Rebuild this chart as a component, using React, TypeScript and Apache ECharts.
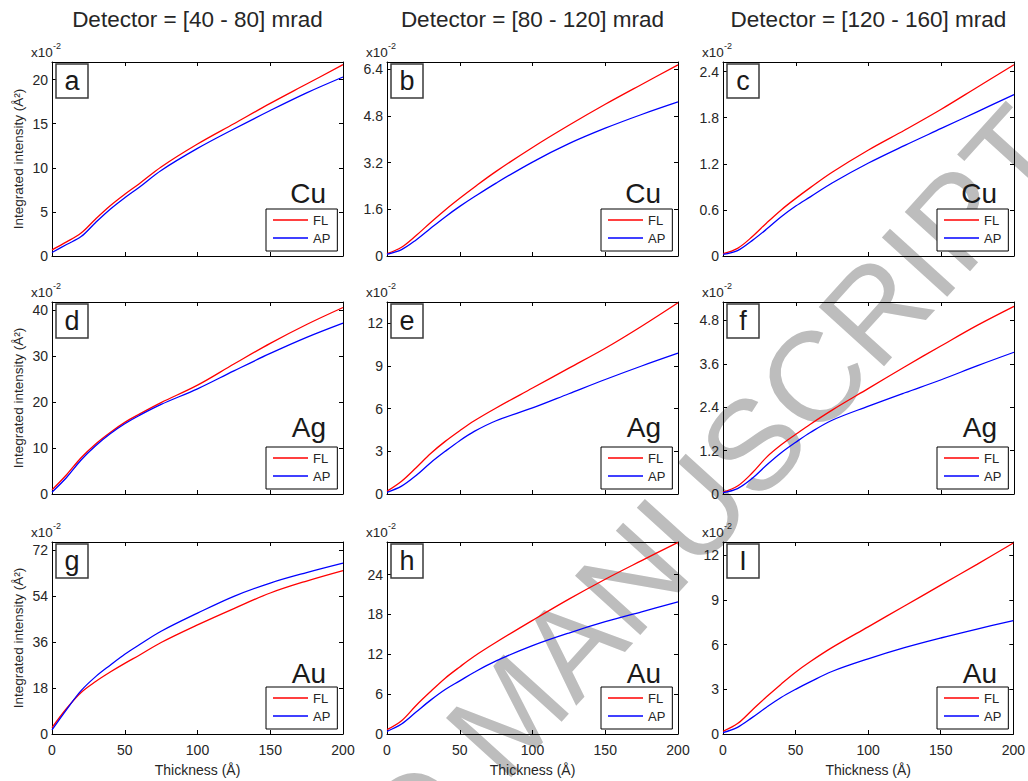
import React, { useEffect, useRef } from "react";
import * as echarts from "echarts";

// ---------- data ----------
const thickness = [0, 10, 20, 30, 40, 50, 60, 75, 100, 125, 150, 175, 200];

const titles = ["Detector = [40 - 80] mrad", "Detector = [80 - 120] mrad", "Detector = [120 - 160] mrad"];
const elements = ["Cu", "Ag", "Au"];
const panelLetters = ["a", "b", "c", "d", "e", "f", "g", "h", "I"];
const seriesNames = ["FL", "AP"];
const xAxisName = "Thickness (Å)";
const yAxisName = "Integrated intensity (Å²)";
const exponentBase = "x10";
const exponentPower = "-2";
const watermarkText = "ACCEPTED MANUSCRIPT";

const yMax = [22, 6.65, 2.525, 41.8, 13.5, 5.31, 75.3, 28.9, 12.9];
const yStep = [5, 1.6, 0.6, 10, 3, 1.2, 18, 6, 3];

const flA = [0.7, 1.6, 2.6, 4.2, 5.7, 7.0, 8.2, 10.1, 12.7, 15.0, 17.3, 19.5, 21.7];
const apA = [0.4, 1.3, 2.2, 3.8, 5.3, 6.6, 7.8, 9.7, 12.2, 14.4, 16.5, 18.5, 20.3];
const flB = [0.08, 0.3, 0.7, 1.15, 1.58, 1.98, 2.36, 2.9, 3.72, 4.48, 5.2, 5.88, 6.55];
const apB = [0.06, 0.22, 0.55, 0.95, 1.34, 1.7, 2.03, 2.5, 3.22, 3.85, 4.38, 4.85, 5.28];
const flC = [0.03, 0.1, 0.25, 0.43, 0.6, 0.75, 0.89, 1.09, 1.38, 1.64, 1.91, 2.2, 2.49];
const apC = [0.02, 0.07, 0.2, 0.35, 0.51, 0.65, 0.77, 0.95, 1.21, 1.44, 1.66, 1.88, 2.1];
const flD = [0.9, 4.2, 7.9, 10.9, 13.4, 15.6, 17.4, 19.9, 23.7, 28.3, 32.8, 36.9, 40.6];
const apD = [0.4, 3.6, 7.4, 10.5, 13.1, 15.3, 17.1, 19.5, 22.9, 26.8, 30.6, 34.1, 37.2];
const flE = [0.2, 0.9, 1.85, 2.85, 3.7, 4.45, 5.15, 6.05, 7.45, 8.85, 10.25, 11.8, 13.45];
const apE = [0.12, 0.55, 1.3, 2.2, 3.0, 3.75, 4.4, 5.15, 6.05, 7.05, 8.05, 9.0, 9.9];
const flF = [0.05, 0.22, 0.58, 1.02, 1.36, 1.65, 1.93, 2.32, 2.92, 3.52, 4.1, 4.67, 5.19];
const apF = [0.04, 0.15, 0.43, 0.8, 1.14, 1.43, 1.7, 2.04, 2.43, 2.8, 3.16, 3.55, 3.92];
const flG = [2.5, 10.0, 16.3, 20.6, 24.3, 27.7, 30.9, 35.9, 42.8, 49.2, 55.3, 60.0, 64.1];
const apG = [1.6, 9.6, 17.0, 22.5, 27.0, 31.3, 35.0, 40.3, 47.4, 54.0, 59.2, 63.3, 67.0];
const flH = [0.65, 2.0, 4.3, 6.4, 8.4, 10.1, 11.7, 13.8, 17.1, 20.3, 23.3, 26.1, 28.85];
const apH = [0.4, 1.5, 3.3, 5.1, 6.7, 8.0, 9.3, 11.0, 13.3, 15.2, 16.9, 18.4, 19.9];
const flI = [0.18, 0.7, 1.6, 2.5, 3.35, 4.15, 4.85, 5.8, 7.2, 8.6, 10.0, 11.4, 12.83];
const apI = [0.1, 0.45, 1.1, 1.8, 2.45, 3.0, 3.5, 4.2, 5.05, 5.8, 6.45, 7.05, 7.62];

const flSeries = [flA, flB, flC, flD, flE, flF, flG, flH, flI];
const apSeries = [apA, apB, apC, apD, apE, apF, apG, apH, apI];

// ---------- layout ----------
const FONT = "Liberation Sans, Arial, Helvetica, sans-serif";
const TXT = "#262626";
const LEFTS = [52, 387, 723];
const W = 291;
const TOPS = [62, 302, 542];
const HS = [194, 192, 192];
const ELEM_BASE = [206, 440, 686];

function buildOption() {
  const grid: any[] = [];
  const xAxis: any[] = [];
  const yAxis: any[] = [];
  const series: any[] = [];
  const legend: any[] = [];
  const graphic: any[] = [];

  // watermark (drawn beneath the plots)
  graphic.push({
    type: "text",
    x: 1040,
    y: 128,
    rotation: 0.834,
    z: -1,
    silent: true,
    style: {
      text: watermarkText,
      fontSize: 128,
      fontFamily: FONT,
      fill: "#bdbdbd",
      textAlign: "right",
      textVerticalAlign: "middle",
    },
  });

  for (let c = 0; c < 3; c++) {
    graphic.push({
      type: "text",
      x: LEFTS[c] + W / 2,
      y: 19,
      style: {
        text: titles[c],
        fontSize: 22.5,
        fontFamily: FONT,
        fill: TXT,
        textAlign: "center",
        textVerticalAlign: "middle",
      },
    });
  }

  for (let i = 0; i < 9; i++) {
    const r = Math.floor(i / 3);
    const c = i % 3;
    const L = LEFTS[c];
    const T = TOPS[r];
    const H = HS[r];
    grid.push({ left: L, top: T, width: W, height: H, show: false });

    const tickStyle = { inside: true, length: 4, lineStyle: { color: "#000", width: 1 } };
    const lineStyle = { onZero: false, lineStyle: { color: "#000", width: 1 } };
    xAxis.push({
      type: "value",
      gridIndex: i,
      position: "bottom",
      min: 0,
      max: 200,
      interval: 50,
      axisLine: lineStyle,
      axisTick: tickStyle,
      splitLine: { show: false },
      axisLabel: { show: r === 2, fontSize: 14, color: TXT, margin: 9, fontFamily: FONT },
      name: r === 2 ? xAxisName : "",
      nameLocation: "middle",
      nameGap: 29,
      nameTextStyle: { fontSize: 14, color: TXT, fontFamily: FONT },
    });
    xAxis.push({
      type: "value",
      gridIndex: i,
      position: "top",
      min: 0,
      max: 200,
      interval: 50,
      axisLine: lineStyle,
      axisTick: tickStyle,
      splitLine: { show: false },
      axisLabel: { show: false },
    });
    yAxis.push({
      type: "value",
      gridIndex: i,
      position: "left",
      min: 0,
      max: yMax[i],
      interval: yStep[i],
      axisLine: lineStyle,
      axisTick: tickStyle,
      splitLine: { show: false },
      axisLabel: { fontSize: 14, color: TXT, margin: 4, showMaxLabel: false, fontFamily: FONT },
      name: c === 0 ? yAxisName : "",
      nameLocation: "middle",
      nameGap: 27,
      nameRotate: 90,
      nameTextStyle: { fontSize: 13.5, color: TXT, fontFamily: FONT },
    });
    yAxis.push({
      type: "value",
      gridIndex: i,
      position: "right",
      min: 0,
      max: yMax[i],
      interval: yStep[i],
      axisLine: lineStyle,
      axisTick: tickStyle,
      splitLine: { show: false },
      axisLabel: { show: false },
    });

    const mk = (vals: number[]) => thickness.map((x, k) => [x, vals[k]]);
    series.push({
      type: "line",
      name: seriesNames[0],
      xAxisIndex: 2 * i,
      yAxisIndex: 2 * i,
      data: mk(flSeries[i]),
      showSymbol: false,
      symbol: "none",
      smooth: 0.35,
      lineStyle: { color: "#ff0000", width: 1.3 },
      itemStyle: { color: "#ff0000" },
    });
    series.push({
      type: "line",
      name: seriesNames[1],
      xAxisIndex: 2 * i,
      yAxisIndex: 2 * i,
      data: mk(apSeries[i]),
      showSymbol: false,
      symbol: "none",
      smooth: 0.35,
      lineStyle: { color: "#0000ff", width: 1.3 },
      itemStyle: { color: "#0000ff" },
    });

    legend.push({
      data: seriesNames,
      orient: "vertical",
      left: L + W - 5 - 72,
      top: T + H - 5 - 42,
      icon: "rect",
      itemWidth: 35,
      itemHeight: 1.5,
      itemGap: 2,
      padding: [3, 7, 5, 7],
      borderColor: "#000",
      borderWidth: 1,
      backgroundColor: "#fff",
      selectedMode: false,
      textStyle: { fontSize: 13, color: TXT, fontFamily: FONT, lineHeight: 16 },
    });

    // panel letter box
    graphic.push({
      type: "rect",
      shape: { x: L + 4, y: T + 2, width: 32, height: 34 },
      style: { fill: "#fff", stroke: "#3a3a3a", lineWidth: 1.5 },
      z: 100,
    });
    graphic.push({
      type: "text",
      x: L + 20,
      y: T + 19,
      style: {
        text: panelLetters[i],
        fontSize: 27,
        fontFamily: FONT,
        fill: "#1a1a1a",
        textAlign: "center",
        textVerticalAlign: "middle",
      },
      z: 101,
    });
    // element label
    graphic.push({
      type: "text",
      x: L + W - 17,
      y: ELEM_BASE[r] + 1,
      style: {
        text: elements[r],
        fontSize: 28,
        fontFamily: FONT,
        fill: "#1a1a1a",
        textAlign: "right",
        textVerticalAlign: "bottom",
      },
      z: 100,
    });
    // exponent label
    graphic.push({
      type: "text",
      x: L - 21,
      y: T - 3,
      style: {
        text: exponentBase,
        fontSize: 13.5,
        fontFamily: FONT,
        fill: TXT,
        textAlign: "left",
        textVerticalAlign: "bottom",
      },
    });
    graphic.push({
      type: "text",
      x: L + 1,
      y: T - 21,
      style: {
        text: exponentPower,
        fontSize: 9,
        fontFamily: FONT,
        fill: TXT,
        textAlign: "left",
        textVerticalAlign: "top",
      },
    });
  }

  return {
    animation: false,
    backgroundColor: "#fff",
    grid,
    xAxis,
    yAxis,
    series,
    legend,
    graphic,
  };
}

export default function App() {
  const ref = useRef<HTMLDivElement>(null);
  useEffect(() => {
    if (!ref.current) return;
    const chart = echarts.init(ref.current, null, { renderer: "svg" });
    chart.setOption(buildOption() as any);
    return () => chart.dispose();
  }, []);
  return (
    <div
      ref={ref}
      style={{ position: "absolute", left: 0, top: 0, width: 1028, height: 781, background: "#fff" }}
    />
  );
}
